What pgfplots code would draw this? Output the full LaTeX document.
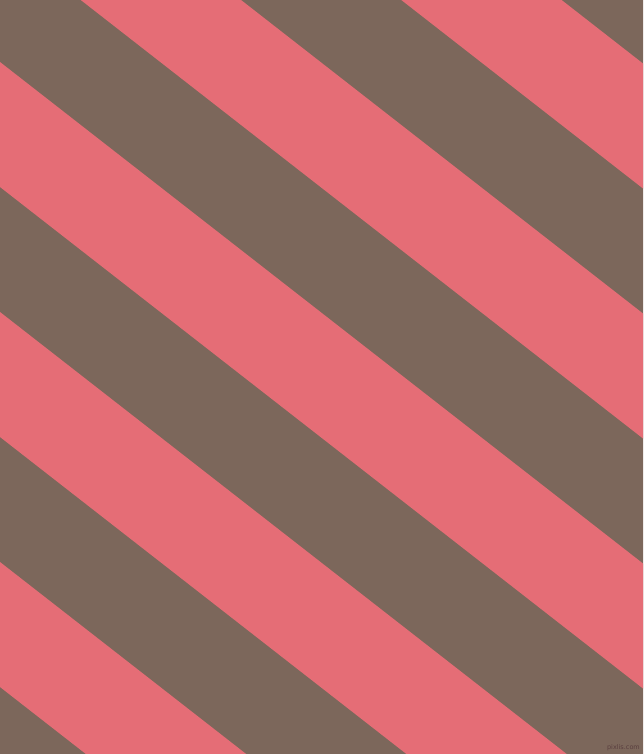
\documentclass[border=0pt]{standalone}
\usepackage{pgfplots}
\pgfplotsset{compat=1.18}
\usepackage{fontspec}
\setmainfont{DejaVu Sans}
\definecolor{stripebrown}{HTML}{7C675B}
\definecolor{stripepink}{HTML}{E56D76}
\definecolor{markgray}{HTML}{5A3F3F}
\begin{document}
\begin{tikzpicture}
\begin{axis}[
    name=pane,
    scale only axis,
    width=643pt, height=754pt,
    xmin=0, xmax=643, ymin=0, ymax=754,
    y dir=reverse,
    hide axis,
    clip=true,
]
% background band
\addplot[draw=none, fill=stripebrown] coordinates {(0,0) (643,0) (643,754) (0,754)} \closedcycle;
% pink bands: y = b + 0.78x .. b + 125 + 0.78x
\addplot[draw=none, fill=stripepink] coordinates {(0,-438) (643,63.5) (643,188.5) (0,-313)} -- cycle;
\addplot[draw=none, fill=stripepink] coordinates {(0,-188) (643,313.5) (643,438.5) (0,-63)} -- cycle;
\addplot[draw=none, fill=stripepink] coordinates {(0,62) (643,563.5) (643,688.5) (0,187)} -- cycle;
\addplot[draw=none, fill=stripepink] coordinates {(0,312) (643,813.5) (643,938.5) (0,437)} -- cycle;
\addplot[draw=none, fill=stripepink] coordinates {(0,562) (643,1063.5) (643,1188.5) (0,687)} -- cycle;
\node[anchor=south east, font=\fontsize{6.5}{7}\selectfont, text=markgray, inner sep=1pt]
    at (axis cs:641,752) {pixlis.com};
\end{axis}
\pgfresetboundingbox
\useasboundingbox (pane.south west) rectangle (pane.north east);
\end{tikzpicture}
\end{document}
